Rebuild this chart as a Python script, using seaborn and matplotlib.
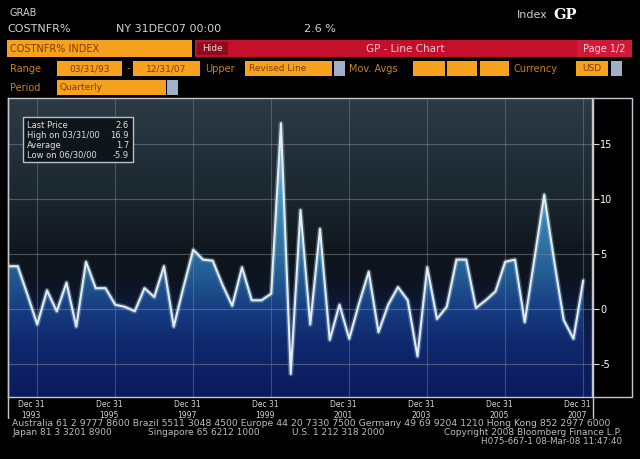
import numpy as np
import pandas as pd
import matplotlib
matplotlib.use("Agg")
import matplotlib.pyplot as plt
import seaborn as sns
from matplotlib.colors import LinearSegmentedColormap, Normalize
from matplotlib.patches import Rectangle
from matplotlib.lines import Line2D
import matplotlib.transforms as mtransforms

# ---------------- data ----------------
quarters = [f"{y}Q{q}" for y in range(1993, 2008) for q in range(1, 5)]
values = [3.9, 3.9, 1.3, -1.4, 1.7, -0.2, 2.4, -1.6, 4.3, 1.9,
          1.9, 0.4, 0.2, -0.2, 1.9, 1.1, 3.9, -1.6, 2.0, 5.4,
          4.5, 4.4, 2.2, 0.3, 3.8, 0.8, 0.8, 1.4, 16.9, -5.9,
          9.0, -1.4, 7.3, -2.8, 0.4, -2.7, 0.5, 3.4, -2.1, 0.4,
          2.0, 0.8, -4.3, 3.8, -0.9, 0.2, 4.5, 4.5, 0.1, 0.8,
          1.6, 4.3, 4.5, -1.2, 4.6, 10.4, 4.5, -1.0, -2.7, 2.6]
ytick_values = [-5, 0, 5, 10, 15]
xtick_years = ["1993", "1995", "1997", "1999", "2001", "2003", "2005", "2007"]
minor_years = ["1994", "1996", "1998", "2000", "2002", "2004", "2006"]
stat_labels = ["Last Price", "High on 03/31/00", "Average", "Low on 06/30/00"]
stat_values = ["2.6", "16.9", "1.7", "-5.9"]

df = pd.DataFrame({"quarter": quarters, "value": values})
df["idx"] = np.arange(len(df))

W, H = 640, 459
def fx(x): return x / W
def fy(y): return 1 - y / H

sns.set_style("dark")
plt.rcParams["font.family"] = ["DejaVu Sans"]

fig = plt.figure(figsize=(6.4, 4.59), dpi=100, facecolor="black")

ORANGE = "#f7a21e"
OTXT = "#c98318"
RED = "#c5102b"
BOXTXT = "#7a3c00"

def rect(x0, y0, x1, y1, fc, ec="none", lw=0, z=1):
    fig.add_artist(Rectangle((fx(x0), fy(y1)), (x1 - x0) / W, (y1 - y0) / H,
                             transform=fig.transFigure, facecolor=fc,
                             edgecolor=ec, linewidth=lw, zorder=z))

def txt(x, y, s, size=7.5, color="#d0d0d0", ha="left", weight="normal", family=None, z=3):
    kw = {}
    if family:
        kw["family"] = family
    fig.text(fx(x), fy(y), s, fontsize=size, color=color, ha=ha, va="center",
             weight=weight, zorder=z, **kw)

# ---------------- header ----------------
txt(10, 13, "GRAB", 7)
txt(7, 29, "COSTNFR%", 8)
txt(116, 29, "NY 31DEC07 00:00", 8)
txt(304, 29, "2.6 %", 8)
txt(517, 15, "Index", 8)
txt(553, 15, "GP", 10.5, color="white", weight="bold", family="DejaVu Serif")

rect(7, 40, 192, 57, ORANGE)
txt(10, 48.5, "COSTNFR% INDEX", 7, color=BOXTXT)
rect(195, 40, 632, 57, RED)
rect(197, 42, 228, 55, "#8e0a1e")
txt(212.5, 48.5, "Hide", 6.5, color="#ffd0d8", ha="center")
txt(405, 48.5, "GP - Line Chart", 7.5, color="#ffc8d0", ha="center")
rect(577, 40, 632, 57, "#d21a38")
txt(604, 48.5, "Page 1/2", 7, color="#ffd0d8", ha="center")

# row 2
txt(10, 68.5, "Range", 7, color=OTXT)
rect(57, 61, 122, 76, ORANGE)
txt(89.5, 68.5, "03/31/93", 6.5, color=BOXTXT, ha="center")
txt(127, 68.5, "-", 7, color=OTXT)
rect(133, 61, 200, 76, ORANGE)
txt(166.5, 68.5, "12/31/07", 6.5, color=BOXTXT, ha="center")
txt(205, 68.5, "Upper", 7, color=OTXT)
rect(245, 61, 332, 76, ORANGE)
txt(249, 68.5, "Revised Line", 6.5, color=BOXTXT)
rect(334, 61, 345, 76, "#9fb0c8")
txt(349, 68.5, "Mov. Avgs", 7, color=OTXT)
rect(413, 61, 445, 76, ORANGE)
rect(447, 61, 477, 76, ORANGE)
rect(480, 61, 509, 76, ORANGE)
txt(514, 68.5, "Currency", 7, color=OTXT)
rect(576, 61, 608, 76, ORANGE)
txt(592, 68.5, "USD", 6.5, color=BOXTXT, ha="center")
rect(611, 61, 622, 76, "#9fb0c8")

# row 3
txt(10, 87.5, "Period", 7, color=OTXT)
rect(57, 80, 166, 95, ORANGE)
txt(60, 87.5, "Quarterly", 6.5, color=BOXTXT)
rect(167, 80, 178, 95, "#9fb0c8")

# ---------------- chart ----------------
XMAX = 59.9
YMIN, YMAX = -8.0, 19.2
ax = fig.add_axes([fx(8), fy(397), (592 - 8) / W, (397 - 98) / H])
ax.set_xlim(0, XMAX)
ax.set_ylim(YMIN, YMAX)

def vcmap(name, stops):
    pos = [(v - YMIN) / (YMAX - YMIN) for v, _ in stops]
    return LinearSegmentedColormap.from_list(name, list(zip(pos, [c for _, c in stops])))

bg_cmap = vcmap("bg", [(-8, "#0a1c60"), (-3, "#0c1d52"), (0, "#0d1a3c"),
                       (2.5, "#0d1420"), (5, "#10161b"), (10, "#1b262e"),
                       (19.2, "#2c3b45")])
fill_cmap = vcmap("fill", [(-8, "#0a1a5c"), (-3, "#10296e"), (0, "#173d82"),
                           (3, "#225a92"), (5, "#2a6b9e"), (10, "#3d90b8"),
                           (17, "#7ccbe0"), (19.2, "#8ad6e6")])

yy = np.linspace(YMAX, YMIN, 400).reshape(-1, 1)
norm = Normalize(YMIN, YMAX)
ax.imshow(yy, extent=[0, XMAX, YMIN, YMAX], aspect="auto", cmap=bg_cmap,
          norm=norm, zorder=0, interpolation="bilinear")
im = ax.imshow(yy, extent=[0, XMAX, YMIN, YMAX], aspect="auto", cmap=fill_cmap,
               norm=norm, zorder=1, interpolation="bilinear")
poly = ax.fill_between(df["idx"], df["value"], YMIN, facecolor="none",
                       edgecolor="none", zorder=1)
im.set_clip_path(poly.get_paths()[0], transform=ax.transData)

# grid
xtick_pos = [quarters.index(f"{y}Q4") for y in xtick_years]
minor_pos = [quarters.index(f"{y}Q4") for y in minor_years]
for v in ytick_values:
    ax.axhline(v, color="#7d8a92", lw=0.8, alpha=0.55, zorder=2)
for p in xtick_pos:
    ax.axvline(p, color="#7d8a92", lw=0.8, alpha=0.45, zorder=2)

# line
sns.lineplot(data=df, x="idx", y="value", ax=ax, color="#9cc8de", lw=3.6,
             alpha=0.35, zorder=4)
sns.lineplot(data=df, x="idx", y="value", ax=ax, color="#e2ebf0", lw=1.5,
             zorder=5)
ax.set_xlabel("")
ax.set_ylabel("")

# axes styling
for s in ax.spines.values():
    s.set_color("#c4c8cc")
    s.set_linewidth(1.0)
ax.yaxis.tick_right()
ax.set_yticks(ytick_values)
ax.set_yticklabels([str(v) for v in ytick_values])
ax.tick_params(axis="y", colors="#d8d8d8", labelcolor="white", length=5,
               width=0.8, labelsize=7, pad=1, right=True, left=False)
ax.set_xticks(xtick_pos)
ax.set_xticklabels([f"Dec 31\n{y}" for y in xtick_years], linespacing=1.25)
ax.set_xticks(minor_pos, minor=True)
ax.tick_params(axis="x", which="major", length=0, labelsize=5.5,
               labelcolor="#d8d8d8", pad=2.5)
ax.tick_params(axis="x", which="minor", length=2, color="#c4c8cc", width=1)
offset = mtransforms.ScaledTranslation(-6 / 100, 0, fig.dpi_scale_trans)
for lab in ax.get_xticklabels():
    lab.set_transform(lab.get_transform() + offset)
ax.grid(False)

# frames
rect(593, 98, 632, 397, "none", ec="#c4c8cc", lw=1.0, z=6)
fig.add_artist(Line2D([fx(7.5), fx(7.5)], [fy(98), fy(418)], color="#c4c8cc",
                      lw=1.0, transform=fig.transFigure))
fig.add_artist(Line2D([fx(593), fx(593)], [fy(397), fy(418)], color="#c4c8cc",
                      lw=1.0, transform=fig.transFigure))

# stats box
rect(23, 117, 133, 162, "#0e151b", ec="#b8c0c4", lw=1.0, z=6)
for k, (lab, val) in enumerate(zip(stat_labels, stat_values)):
    y = 125 + 10 * k
    txt(27, y, lab, 6, color="#e0e0e0", z=7)
    txt(129, y, val, 6, color="#e0e0e0", ha="right", z=7)

# ---------------- footer ----------------
FC = "#bdbdbd"
txt(12, 423, "Australia 61 2 9777 8600 Brazil 5511 3048 4500 Europe 44 20 7330 7500 "
    "Germany 49 69 9204 1210 Hong Kong 852 2977 6000", 6.7, color=FC)
txt(12, 432.5, "Japan 81 3 3201 8900", 6.5, color=FC)
txt(148, 432.5, "Singapore 65 6212 1000", 6.5, color=FC)
txt(292, 432.5, "U.S. 1 212 318 2000", 6.5, color=FC)
txt(622, 432.5, "Copyright 2008 Bloomberg Finance L.P.", 6.5, color=FC, ha="right")
txt(622, 441.5, "H075-667-1 08-Mar-08 11:47:40", 6.3, color=FC, ha="right")

fig.savefig("out.png", dpi=100, facecolor="black")
